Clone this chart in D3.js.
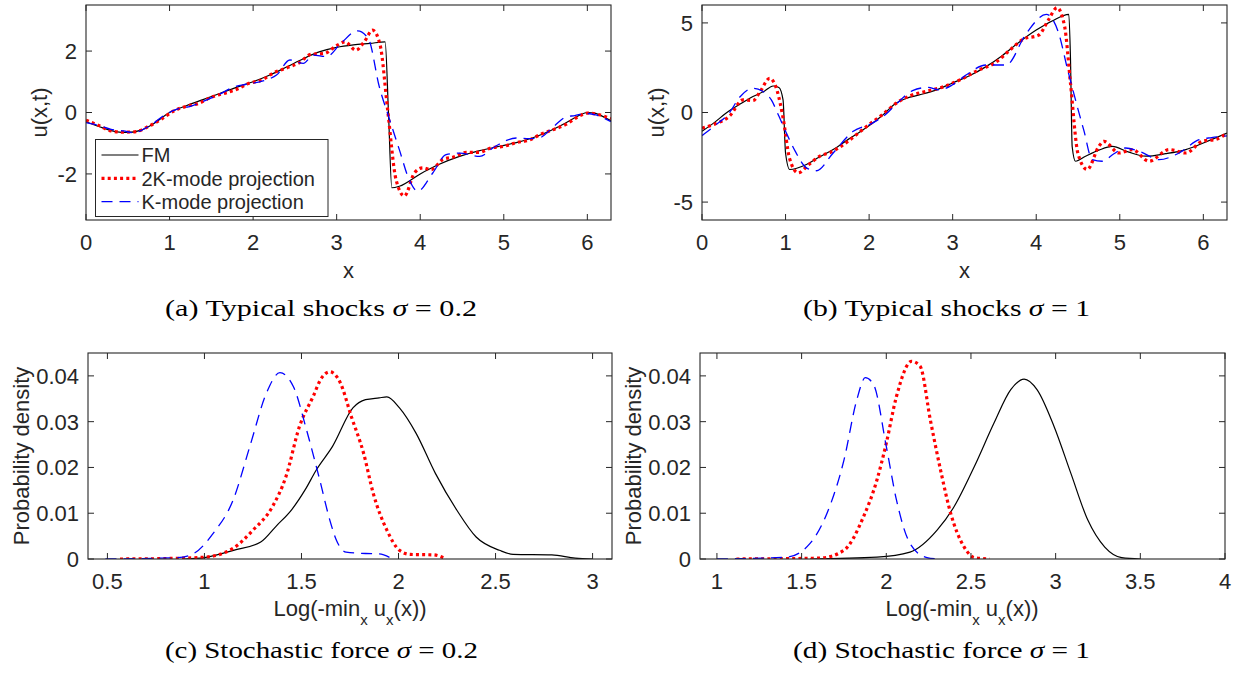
<!DOCTYPE html>
<html><head><meta charset="utf-8">
<script src="https://cdn.jsdelivr.net/npm/d3@7"></script>
<style>
body{margin:0;background:#fff}
svg text{font-family:"Liberation Sans",Arial,Helvetica,sans-serif;fill:#262626}
</style>
</head><body>
<svg id="fig" width="1236" height="675" xmlns="http://www.w3.org/2000/svg"></svg>
<script>
// ---------- data ----------
// (a) typical shocks sigma = 0.2
const aFM = [[0,-0.30],[0.2,-0.5],[0.35,-0.62],[0.5,-0.65],[0.65,-0.58],[0.8,-0.38],[1.0,0.0],[1.2,0.22],[1.4,0.42],[1.6,0.62],[1.8,0.82],[2.0,1.0],[2.2,1.22],[2.4,1.48],[2.6,1.75],[2.8,1.98],[3.0,2.12],[3.2,2.2],[3.4,2.25],[3.58,2.3],[3.62,0.0],[3.66,-2.45],[3.75,-2.4],[4.0,-2.0],[4.2,-1.72],[4.47,-1.43],[4.7,-1.25],[4.95,-1.10],[5.15,-0.98],[5.34,-0.83],[5.55,-0.6],[5.74,-0.34],[5.9,-0.1],[6.0,0.0],[6.1,-0.03],[6.2,-0.15],[6.283,-0.27]];
const a2K = [[0,-0.25],[0.15,-0.42],[0.3,-0.6],[0.45,-0.64],[0.6,-0.62],[0.75,-0.45],[0.9,-0.22],[1.05,0.05],[1.2,0.2],[1.35,0.3],[1.5,0.5],[1.65,0.62],[1.8,0.75],[1.95,0.95],[2.1,1.05],[2.25,1.3],[2.4,1.45],[2.55,1.62],[2.7,1.9],[2.85,1.92],[3.0,2.18],[3.1,2.3],[3.23,2.03],[3.33,2.3],[3.43,2.68],[3.52,2.2],[3.61,0.09],[3.71,-2.18],[3.81,-2.72],[3.93,-1.97],[4.03,-1.8],[4.13,-1.86],[4.27,-1.53],[4.4,-1.45],[4.55,-1.3],[4.7,-1.3],[4.85,-1.15],[5.0,-1.1],[5.15,-0.98],[5.3,-0.9],[5.45,-0.7],[5.6,-0.55],[5.75,-0.38],[5.9,-0.12],[6.0,-0.02],[6.1,-0.05],[6.2,-0.12],[6.283,-0.2]];
const aK = [[0,-0.33],[0.15,-0.42],[0.3,-0.55],[0.45,-0.6],[0.57,-0.66],[0.75,-0.45],[0.96,-0.05],[1.1,0.12],[1.25,0.2],[1.4,0.36],[1.6,0.6],[1.76,0.82],[1.92,0.92],[2.08,1.0],[2.2,1.1],[2.28,1.22],[2.44,1.71],[2.6,1.6],[2.72,1.87],[2.88,1.82],[3.05,2.25],[3.25,2.66],[3.38,2.4],[3.51,0.84],[3.63,-0.2],[3.75,-1.21],[3.87,-2.2],[3.97,-2.56],[4.15,-1.97],[4.31,-1.37],[4.47,-1.32],[4.71,-1.43],[4.9,-1.1],[5.15,-0.83],[5.3,-0.85],[5.42,-0.83],[5.6,-0.45],[5.74,-0.15],[5.85,-0.1],[5.98,-0.03],[6.1,-0.08],[6.283,-0.3]];
// (b) typical shocks sigma = 1
const bFM = [[0,-1.05],[0.15,-0.55],[0.29,-0.03],[0.45,0.45],[0.61,0.89],[0.75,1.2],[0.85,1.48],[0.92,1.4],[0.97,0.7],[1.0,-2.26],[1.05,-3.18],[1.25,-2.9],[1.4,-2.5],[1.57,-2.07],[1.75,-1.5],[1.96,-0.87],[2.15,-0.2],[2.32,0.52],[2.45,0.8],[2.6,0.98],[2.8,1.25],[3.0,1.65],[3.2,2.05],[3.4,2.56],[3.6,3.2],[3.8,3.94],[4.0,4.6],[4.19,5.11],[4.39,5.48],[4.41,3.0],[4.43,-1.89],[4.47,-2.72],[4.59,-2.44],[4.75,-2.1],[4.91,-1.89],[5.1,-2.2],[5.31,-2.44],[5.55,-2.3],[5.79,-2.07],[6.0,-1.7],[6.283,-1.15]];
const b2K = [[0,-0.87],[0.15,-0.65],[0.33,-0.2],[0.49,0.7],[0.61,0.67],[0.7,1.2],[0.81,1.91],[0.9,1.2],[0.97,-0.3],[1.05,-2.6],[1.15,-3.37],[1.28,-2.9],[1.41,-2.44],[1.55,-2.2],[1.75,-1.6],[1.95,-0.85],[2.15,-0.15],[2.35,0.6],[2.5,0.95],[2.7,1.2],[2.9,1.45],[3.1,1.85],[3.3,2.35],[3.5,2.75],[3.7,3.55],[3.85,4.1],[4.03,4.32],[4.15,5.2],[4.25,5.85],[4.34,4.8],[4.41,1.63],[4.5,-2.3],[4.61,-3.18],[4.75,-1.89],[4.81,-1.61],[4.99,-2.26],[5.15,-2.07],[5.35,-2.72],[5.59,-2.07],[5.79,-2.26],[5.99,-1.6],[6.15,-1.5],[6.283,-1.15]];
const bK = [[0,-1.29],[0.15,-0.75],[0.33,0.0],[0.45,0.85],[0.61,1.35],[0.72,1.2],[0.83,0.7],[0.92,-0.2],[1.01,-1.15],[1.12,-2.2],[1.25,-3.09],[1.37,-3.25],[1.57,-2.26],[1.81,-1.05],[2.04,-0.59],[2.2,-0.1],[2.32,0.45],[2.52,1.22],[2.7,1.4],[2.84,1.26],[3.0,1.55],[3.16,2.09],[3.4,2.65],[3.64,2.65],[3.88,4.41],[4.12,5.48],[4.27,4.41],[4.37,2.5],[4.47,0.7],[4.57,-1.0],[4.67,-2.63],[4.79,-2.72],[4.93,-2.3],[5.07,-1.98],[5.25,-2.2],[5.47,-2.63],[5.71,-2.26],[5.95,-1.52],[6.1,-1.4],[6.283,-1.3]];
// (c) stochastic force sigma = 0.2 (pdf of log(-min u_x))
const cFM = [[0.9,0],[1.0,0.0003],[1.15,0.0019],[1.29,0.0037],[1.37,0.0072],[1.45,0.0108],[1.52,0.0152],[1.577,0.0195],[1.66,0.0246],[1.765,0.033],[1.83,0.0348],[1.90,0.0352],[1.94,0.0354],[2.005,0.033],[2.09,0.0275],[2.19,0.0187],[2.30,0.0107],[2.40,0.0048],[2.52,0.0019],[2.59,0.001],[2.79,0.0009],[2.91,0.0002],[3.0,0]];
const c2K = [[0.565,0],[0.8,0.0001],[1.0,0.0004],[1.15,0.0024],[1.25,0.0063],[1.35,0.0114],[1.42,0.018],[1.49,0.029],[1.56,0.0355],[1.60,0.0393],[1.646,0.0409],[1.70,0.0385],[1.757,0.0311],[1.82,0.0231],[1.87,0.0143],[1.94,0.0063],[2.005,0.0019],[2.06,0.001],[2.18,0.0009],[2.246,0]];
const cK = [[0.49,0],[0.86,0.0003],[0.94,0.0011],[1.045,0.0056],[1.148,0.0129],[1.234,0.0246],[1.32,0.0363],[1.389,0.0407],[1.458,0.0377],[1.526,0.0282],[1.594,0.0173],[1.646,0.0085],[1.68,0.0041],[1.73,0.0015],[1.83,0.0012],[1.90,0.0011],[1.97,0]];
// (d) stochastic force sigma = 1
const dFM = [[1.55,0],[1.945,0.0004],[2.14,0.0015],[2.30,0.0063],[2.40,0.0114],[2.52,0.0202],[2.636,0.0297],[2.735,0.037],[2.814,0.0393],[2.89,0.037],[2.99,0.029],[3.09,0.0187],[3.19,0.0085],[3.29,0.0026],[3.39,0.0003],[3.5,0]];
const d2K = [[1.115,0],[1.61,0.0002],[1.75,0.0019],[1.865,0.0092],[1.945,0.0173],[2.0,0.0253],[2.06,0.0355],[2.15,0.0432],[2.20,0.0421],[2.26,0.0304],[2.32,0.0195],[2.38,0.01],[2.46,0.0026],[2.52,0.0003],[2.61,0]];
const dK = [[1.0,0],[1.41,0.0004],[1.55,0.0034],[1.65,0.01],[1.75,0.0216],[1.826,0.0348],[1.876,0.0396],[1.925,0.0381],[2.0,0.0246],[2.06,0.0129],[2.14,0.0034],[2.24,0.0003],[2.31,0]];

// ticks
const xTicksTop = [0,1,2,3,4,5,6];
const xTickLabelsTop = ["0","1","2","3","4","5","6"];
const yTicksA = [-2,0,2];
const yTickLabelsA = ["-2","0","2"];
const yTicksB = [-5,0,5];
const yTickLabelsB = ["-5","0","5"];
const xTicksC = [0.5,1,1.5,2,2.5,3];
const xTickLabelsC = ["0.5","1","1.5","2","2.5","3"];
const xTicksD = [1,1.5,2,2.5,3,3.5,4];
const xTickLabelsD = ["1","1.5","2","2.5","3","3.5","4"];
const yTicksPdf = [0,0.01,0.02,0.03,0.04];
const yTickLabelsPdf = ["0","0.01","0.02","0.03","0.04"];
const seriesNames = ["FM","2K-mode projection","K-mode projection"];
const captions = ["Typical shocks","Typical shocks","Stochastic force","Stochastic force"];
const captionSigma = ["0.2","1","0.2","1"];

// ---------- drawing ----------
const svg = d3.select("#fig");
svg.append("rect").attr("width",1236).attr("height",675).attr("fill","#fff");
const AX = "#262626";
const styles = [
  {stroke:"#000", width:1.2, dash:null},
  {stroke:"#ff0000", width:3.2, dash:"3,3.2"},
  {stroke:"#0000ff", width:1.3, dash:"11,7"}
];

function panel(o){
  const g = svg.append("g");
  const x = d3.scaleLinear().domain(o.xd).range([o.l,o.r]);
  const y = d3.scaleLinear().domain(o.yd).range([o.b,o.t]);
  const id = "clip"+o.key;
  svg.append("clipPath").attr("id",id).append("rect")
    .attr("x",o.l).attr("y",o.t).attr("width",o.r-o.l).attr("height",o.b-o.t);
  const line = d3.line().x(d=>x(d[0])).y(d=>y(d[1])).curve(d3.curveMonotoneX);
  const cg = g.append("g").attr("clip-path",`url(#${id})`);
  o.series.forEach((s,i)=>{
    const st = styles[i];
    cg.append("path").attr("d",line(s)).attr("fill","none")
      .attr("stroke",st.stroke).attr("stroke-width",st.width)
      .attr("stroke-dasharray",st.dash).attr("stroke-linejoin","round");
  });
  g.append("rect").attr("x",o.l).attr("y",o.t).attr("width",o.r-o.l).attr("height",o.b-o.t)
    .attr("fill","none").attr("stroke",AX).attr("stroke-width",1.1);
  const tl = 6;
  o.xt.forEach((v,i)=>{
    const px = x(v);
    g.append("line").attr("x1",px).attr("x2",px).attr("y1",o.b).attr("y2",o.b-tl).attr("stroke",AX);
    g.append("line").attr("x1",px).attr("x2",px).attr("y1",o.t).attr("y2",o.t+tl).attr("stroke",AX);
    g.append("text").attr("x",px).attr("y",o.b+30).attr("text-anchor","middle")
      .attr("font-size",22).text(o.xl[i]);
  });
  o.yt.forEach((v,i)=>{
    const py = y(v);
    g.append("line").attr("x1",o.l).attr("x2",o.l+tl).attr("y1",py).attr("y2",py).attr("stroke",AX);
    g.append("line").attr("x1",o.r).attr("x2",o.r-tl).attr("y1",py).attr("y2",py).attr("stroke",AX);
    g.append("text").attr("x",o.l-9).attr("y",py).attr("dy","0.36em").attr("text-anchor","end")
      .attr("font-size",22).text(o.yl[i]);
  });
  return {g,x,y};
}

const rowTop = {t:5,b:220};
const rowBot = {t:353,b:559};
panel({key:"a",l:86,r:611,...rowTop,xd:[0,2*Math.PI],yd:[-3.5,3.5],xt:xTicksTop,xl:xTickLabelsTop,yt:yTicksA,yl:yTickLabelsA,series:[aFM,a2K,aK]});
panel({key:"b",l:702,r:1227,...rowTop,xd:[0,2*Math.PI],yd:[-6,6],xt:xTicksTop,xl:xTickLabelsTop,yt:yTicksB,yl:yTickLabelsB,series:[bFM,b2K,bK]});
panel({key:"c",l:88,r:612,...rowBot,xd:[0.4,3.1],yd:[0,0.045],xt:xTicksC,xl:xTickLabelsC,yt:yTicksPdf,yl:yTickLabelsPdf,series:[cFM,c2K,cK]});
panel({key:"d",l:700,r:1225,...rowBot,xd:[0.9,4],yd:[0,0.045],xt:xTicksD,xl:xTickLabelsD,yt:yTicksPdf,yl:yTickLabelsPdf,series:[dFM,d2K,dK]});

function ylab(xp,yp,txt){
  svg.append("text").attr("transform",`translate(${xp},${yp}) rotate(-90)`)
    .attr("text-anchor","middle").attr("font-size",22).text(txt);
}
ylab(47,112.5,"u(x,t)");
ylab(664,112.5,"u(x,t)");
ylab(29,456,"Probability density");
ylab(641,456,"Probability density");
function xlab(xp,yp,txt){
  svg.append("text").attr("x",xp).attr("y",yp).attr("text-anchor","middle").attr("font-size",22).text(txt);
}
xlab(348.5,278,"x");
xlab(964.5,278,"x");
function loglab(xp,yp){
  const t = svg.append("text").attr("x",xp).attr("y",yp).attr("text-anchor","middle").attr("font-size",22);
  t.append("tspan").text("Log(-min");
  t.append("tspan").attr("font-size",15).attr("dy",9).text("x");
  t.append("tspan").attr("dy",-9).text(" u");
  t.append("tspan").attr("font-size",15).attr("dy",9).text("x");
  t.append("tspan").attr("dy",-9).text("(x))");
}
loglab(350,616);
loglab(962,616);

const lg = svg.append("g");
lg.append("rect").attr("x",95.5).attr("y",139.5).attr("width",232.5).attr("height",77)
  .attr("fill","#fff").attr("stroke",AX).attr("stroke-width",1);
seriesNames.forEach((n,i)=>{
  const yy = 155 + i*23.3;
  const st = styles[i];
  lg.append("line").attr("x1",101.5).attr("x2",138.5).attr("y1",yy).attr("y2",yy)
    .attr("stroke",st.stroke).attr("stroke-width",st.width).attr("stroke-dasharray",st.dash);
  lg.append("text").attr("x",141.5).attr("y",yy).attr("dy","0.36em").attr("font-size",20).text(n);
});

function caption(xp,yp,letter,txt,sig,len){
  const t = svg.append("text").attr("x",xp).attr("y",yp).attr("text-anchor","middle")
    .style("font-family","'Liberation Serif','DejaVu Serif',serif").attr("font-size",24)
    .attr("textLength",len).attr("lengthAdjust","spacingAndGlyphs").style("fill","#000");
  t.append("tspan").text(`(${letter}) ${txt} `);
  t.append("tspan").style("font-style","italic").text("σ");
  t.append("tspan").text(` = ${sig}`);
}
caption(321,316,"a",captions[0],captionSigma[0],312);
caption(946.5,316,"b",captions[1],captionSigma[1],287);
caption(321.5,658,"c",captions[2],captionSigma[2],313);
caption(941.5,658,"d",captions[3],captionSigma[3],297);
</script>
</body></html>
